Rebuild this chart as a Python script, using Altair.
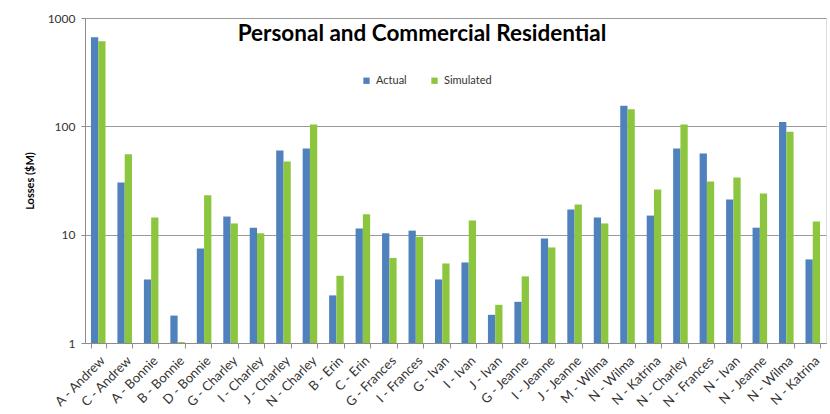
import altair as alt
import pandas as pd

title_text = ["Personal and Commercial Residential"]
labels = ["A - Andrew", "C - Andrew", "A - Bonnie", "B - Bonnie", "D - Bonnie",
          "G - Charley", "I - Charley", "J - Charley", "N - Charley", "B - Erin",
          "C - Erin", "G - Frances", "I - Frances", "G - Ivan", "I - Ivan",
          "J - Ivan", "G - Jeanne", "I - Jeanne", "J - Jeanne", "M - Wilma",
          "N - Wilma", "N - Katrina", "N - Charley", "N - Frances", "N - Ivan",
          "N - Jeanne", "N - Wilma", "N - Katrina"]
actual = [665, 30.3, 3.86, 1.79, 7.46, 14.7, 11.6, 59.7, 62.3, 2.75,
          11.4, 10.3, 10.9, 3.86, 5.54, 1.82, 2.40, 9.22, 17.1, 14.4,
          155, 15.0, 62.3, 56.0, 21.1, 11.6, 109.6, 5.91]
simulated = [611, 55.2, 14.4, 1.02, 23.1, 12.7, 10.3, 47.3, 103.7, 4.17,
             15.4, 6.1, 9.55, 5.42, 13.5, 2.25, 4.12, 7.62, 19.0, 12.7,
             143.5, 26.1, 103.7, 30.9, 33.7, 24.0, 89.3, 13.2]
series = ["Actual", "Simulated"]
colors = ["#4F81BD", "#8CC63F"]

rows = []
for i, lab in enumerate(labels):
    rows.append({"i": i, "label": lab, "series": "Actual", "value": actual[i]})
    rows.append({"i": i, "label": lab, "series": "Simulated", "value": simulated[i]})
df = pd.DataFrame(rows)

label_expr = "[" + ",".join('"%s"' % l for l in labels) + "][datum.value]"

font = "Lato"

bars = alt.Chart(df).mark_bar().encode(
    x=alt.X("i:O", title=None,
            scale=alt.Scale(paddingInner=0.45, paddingOuter=0.225),
            axis=alt.Axis(labelExpr=label_expr, labelAngle=-45, labelFontSize=13,
                          labelColor="#333333", labelFont=font, tickBand="extent",
                          tickColor="#8c8c8c", domainColor="#8c8c8c", tickSize=5,
                          labelPadding=6, grid=False)),
    xOffset=alt.XOffset("series:N", scale=alt.Scale(paddingInner=0, paddingOuter=0)),
    y=alt.Y("value:Q", title="Losses ($M)",
            scale=alt.Scale(type="log", domain=[1, 1000]),
            axis=alt.Axis(values=[1, 10, 100, 1000], format="d", labelFontSize=12,
                          labelColor="#333333", labelFont=font, titleFont=font,
                          titleFontSize=11, titleFontWeight="bold", titleColor="#000000",
                          titlePadding=12, gridColor="#999999", domainColor="#8c8c8c",
                          tickColor="#8c8c8c", tickSize=4, labelPadding=6)),
    y2=alt.datum(1),
    color=alt.Color("series:N", scale=alt.Scale(domain=series, range=colors),
                    legend=alt.Legend(title=None, orient="none", legendX=276, legendY=57,
                                      direction="horizontal", symbolType="square",
                                      symbolSize=40, labelFontSize=11, labelFont=font,
                                      labelColor="#333333", columnPadding=22,
                                      labelOffset=4, symbolStrokeWidth=0)),
)

title = alt.Chart(pd.DataFrame({"t": title_text})).mark_text(
    font=font, fontSize=22.5, fontWeight="bold", color="#000000",
    align="center", baseline="alphabetic"
).encode(text="t:N", x=alt.value(337), y=alt.value(23))

chart = alt.layer(bars, title).properties(
    width=741, height=325,
    autosize="none",
    padding={"left": 85, "top": 18, "right": 4, "bottom": 71},
).configure_view(stroke=None).configure(background="white")

chart.save("out.html", embed_options={"renderer": "svg", "actions": False})
